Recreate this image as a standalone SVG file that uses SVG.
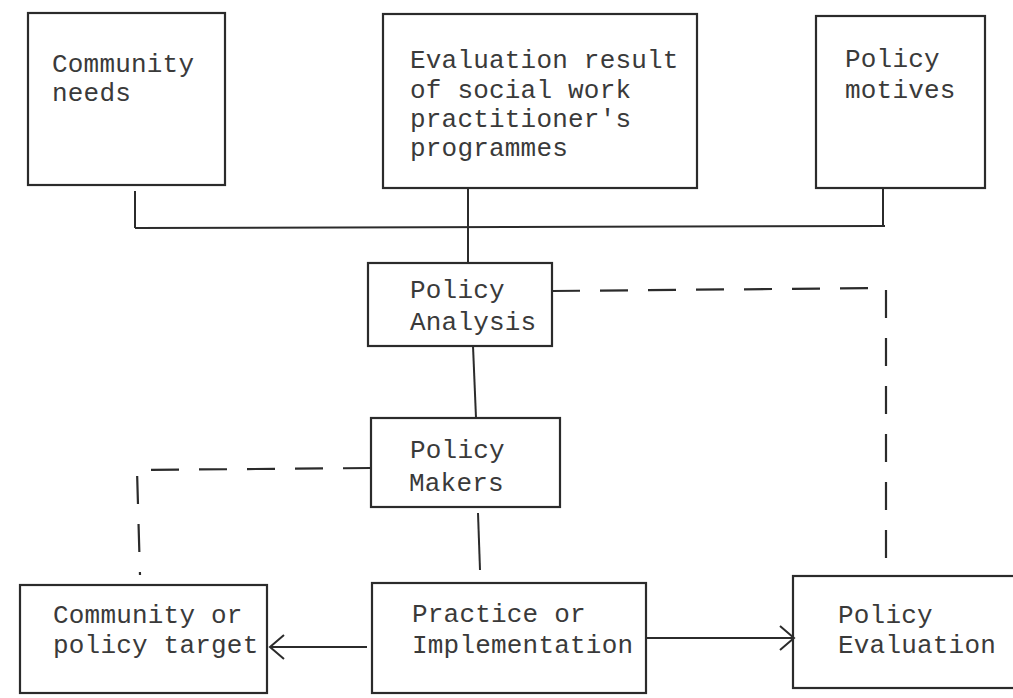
<svg xmlns="http://www.w3.org/2000/svg" width="1013" height="698" viewBox="0 0 1013 698">
  <style>
    .box { fill: none; stroke: #2b2b2b; stroke-width: 2.2; }
    .ln { fill: none; stroke: #2b2b2b; stroke-width: 2; }
    .dash { fill: none; stroke: #2b2b2b; stroke-width: 2.2; stroke-dasharray: 28 20; }
    text { font-family: "Liberation Mono", "DejaVu Sans Mono", monospace; font-size: 26px; letter-spacing: 0.2px; fill: #3a3a3a; }
  </style>
  <defs>
    <marker id="open" markerUnits="userSpaceOnUse" markerWidth="30" markerHeight="30" refX="16" refY="13" orient="auto">
      <path d="M2,1 L16,13 L2,25" fill="none" stroke="#2b2b2b" stroke-width="2"/>
    </marker>
  </defs>
  <rect width="1013" height="698" fill="#ffffff"/>

  <g id="connectors">
    <line class="ln" x1="135" y1="191" x2="135" y2="228"/>
    <line class="ln" x1="468" y1="188" x2="468" y2="263"/>
    <line class="ln" x1="883" y1="188" x2="883" y2="226"/>
    <line class="ln" x1="135" y1="228" x2="885" y2="226"/>
    <line class="ln" x1="473" y1="346" x2="476" y2="418"/>
    <line class="ln" x1="478" y1="513" x2="480" y2="570"/>
    <path class="dash" d="M552,291 L886,288 L886,567"/>
    <path class="dash" d="M371,468 L137,470 L140,575"/>
    <line class="ln" x1="367" y1="647" x2="270" y2="647" marker-end="url(#open)"/>
    <line class="ln" x1="646" y1="638" x2="794" y2="638" marker-end="url(#open)"/>
  </g>

  <g id="community-needs">
    <rect class="box" x="28" y="13" width="197" height="172"/>
    <text x="52" y="72">Community</text>
    <text x="52" y="101">needs</text>
  </g>

  <g id="evaluation-result">
    <rect class="box" x="383" y="14" width="314" height="174"/>
    <text x="410" y="68">Evaluation result</text>
    <text x="410" y="98">of social work</text>
    <text x="410" y="127">practitioner's</text>
    <text x="410" y="156">programmes</text>
  </g>

  <g id="policy-motives">
    <rect class="box" x="816" y="16" width="169" height="172"/>
    <text x="845" y="67">Policy</text>
    <text x="845" y="98">motives</text>
  </g>

  <g id="policy-analysis">
    <rect class="box" x="368" y="263" width="184" height="83"/>
    <text x="410" y="298">Policy</text>
    <text x="410" y="330">Analysis</text>
  </g>

  <g id="policy-makers">
    <rect class="box" x="371" y="418" width="189" height="89"/>
    <text x="410" y="458">Policy</text>
    <text x="409" y="491">Makers</text>
  </g>

  <g id="community-target">
    <rect class="box" x="20" y="585" width="247" height="108"/>
    <text x="53" y="623">Community or</text>
    <text x="53" y="653">policy target</text>
  </g>

  <g id="practice">
    <rect class="box" x="372" y="583" width="274" height="110"/>
    <text x="412" y="622">Practice or</text>
    <text x="412" y="653">Implementation</text>
  </g>

  <g id="policy-evaluation">
    <rect class="box" x="793" y="576" width="230" height="112"/>
    <text x="838" y="623">Policy</text>
    <text x="838" y="653">Evaluation</text>
  </g>
</svg>
